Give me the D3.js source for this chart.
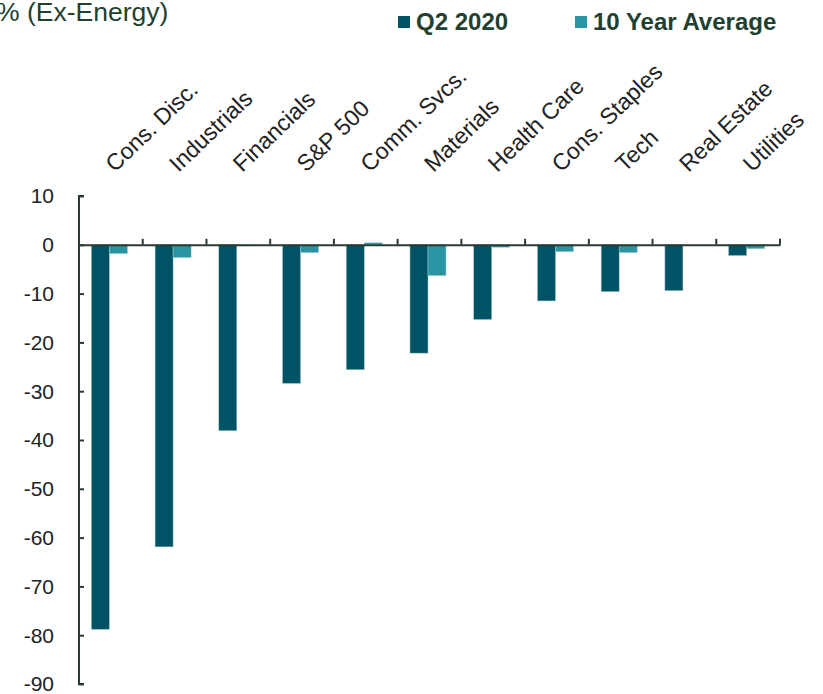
<!DOCTYPE html>
<html>
<head>
<meta charset="utf-8">
<script src="https://cdn.jsdelivr.net/npm/d3@7"></script>
<style>
  html, body { margin: 0; padding: 0; background: #fff; }
  svg { display: block; font-family: "Liberation Sans", Arial, sans-serif; }
</style>
</head>
<body>
<svg id="chart" width="823" height="694"></svg>
<script>
// Sector earnings growth, % (Ex-Energy)
const categories = ["Cons. Disc.", "Industrials", "Financials", "S&P 500", "Comm. Svcs.",
  "Materials", "Health Care", "Cons. Staples", "Tech", "Real Estate", "Utilities"];
const seriesNames = ["Q2 2020", "10 Year Average"];
const q2_2020 = [-78.8, -61.9, -38.1, -28.4, -25.6, -22.2, -15.3, -11.5, -9.6, -9.4, -2.2];
const tenYearAvg = [-1.8, -2.6, -0.2, -1.6, 0.4, -6.3, -0.5, -1.4, -1.6, 0, -0.8];
const yTicks = [10, 0, -10, -20, -30, -40, -50, -60, -70, -80, -90];
const colors = ["#005364", "#2b94a2"];
const textColor = "#22402f";
const axisColor = "#283b30";

const svg = d3.select("#chart");

const x0 = d3.scaleBand().domain(categories).range([79, 780]).paddingInner(0).paddingOuter(0);
const x1 = d3.scaleBand().domain(seriesNames).range([-1.5, x0.bandwidth() - 1.5])
  .paddingInner(0).paddingOuter(0.77);
const y = d3.scaleLinear().domain([-90, 10]).range([684, 196]);

const rows = categories.map((c, i) => ({ cat: c, values: [q2_2020[i], tenYearAvg[i]] }));

// Bars
const groups = svg.append("g").selectAll("g").data(rows).join("g")
  .attr("transform", d => `translate(${x0(d.cat)},0)`);
groups.selectAll("rect")
  .data(d => d.values.map((v, k) => ({ name: seriesNames[k], v, k })))
  .join("rect")
  .attr("x", d => x1(d.name))
  .attr("width", x1.bandwidth())
  .attr("y", d => y(Math.max(0, d.v)))
  .attr("height", d => Math.abs(y(d.v) - y(0)))
  .attr("fill", d => colors[d.k])
  .attr("stroke", "#9fc6cc")
  .attr("stroke-width", 0.5);

// Y axis with ticks pointing inward
const yAxis = svg.append("g").attr("transform", "translate(79,0)")
  .call(d3.axisRight(y).tickValues(yTicks).tickSize(5).tickFormat(""));
yAxis.select(".domain").attr("stroke", axisColor).attr("stroke-width", 2)
  .attr("d", `M5,${y(10)}H0V${y(-90)}H5`);
yAxis.selectAll(".tick line").attr("stroke", axisColor).attr("stroke-width", 2);

svg.append("g").selectAll("text").data(yTicks).join("text")
  .attr("x", 54)
  .attr("y", d => y(d))
  .attr("dy", "0.35em")
  .attr("text-anchor", "end")
  .attr("font-size", 21)
  .attr("fill", "#222")
  .text(d => d);

// Zero baseline with category separators
const xAxis = svg.append("g").attr("transform", `translate(0,${y(0)})`)
  .call(d3.axisTop(x0).tickSize(0).tickFormat(""));
xAxis.select(".domain").attr("stroke", axisColor).attr("stroke-width", 2);
const boundaries = categories.map(c => x0(c) + x0.bandwidth());
xAxis.selectAll("line.sep").data(boundaries).join("line")
  .attr("class", "sep")
  .attr("x1", d => d).attr("x2", d => d)
  .attr("y1", 0).attr("y2", -6)
  .attr("stroke", axisColor).attr("stroke-width", 2);

// Rotated category labels
svg.append("g").selectAll("text").data(categories).join("text")
  .attr("transform", d => `translate(${x0(d) + x0.bandwidth() / 2 + 4},173) rotate(-44)`)
  .attr("text-anchor", "start")
  .attr("font-size", 23)
  .attr("fill", "#222")
  .text(d => d);

// Title
svg.append("text")
  .attr("x", -4).attr("y", 21)
  .attr("font-size", 26.5)
  .attr("fill", textColor)
  .text("% (Ex-Energy)");

// Legend
const legendX = [398, 575];
const legend = svg.append("g").selectAll("g").data(seriesNames).join("g")
  .attr("transform", (d, i) => `translate(${legendX[i]},16)`);
legend.append("rect").attr("width", 12).attr("height", 12)
  .attr("fill", (d, i) => colors[i]);
legend.append("text")
  .attr("x", 18).attr("y", 13.5)
  .attr("font-size", 24).attr("font-weight", "bold")
  .attr("fill", textColor)
  .text(d => d);
</script>
</body>
</html>
